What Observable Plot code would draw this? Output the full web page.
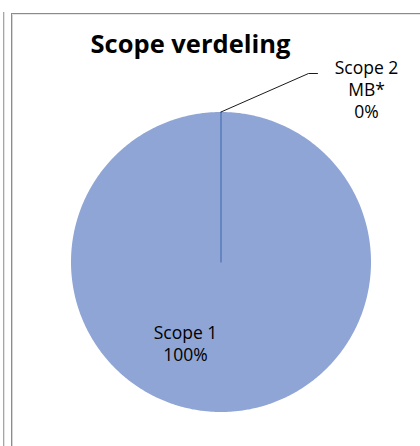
<!DOCTYPE html>
<html>
<head>
<meta charset="utf-8">
<script src="https://cdn.jsdelivr.net/npm/d3@7"></script>
<script src="https://cdn.jsdelivr.net/npm/@observablehq/plot@0.6"></script>
<style>
  html, body { margin: 0; padding: 0; background: #fff; }
  #wrap { position: relative; width: 420px; height: 446px; overflow: hidden; }
  #wrap svg { position: absolute; left: 0; top: 0; }
  .ln { position: absolute; pointer-events: none; }
</style>
</head>
<body>
<div id="wrap">
  <div class="ln" style="left:3px;top:12px;width:1px;height:434px;background:#a6a6a6"></div>
  <div class="ln" style="left:4px;top:12px;width:1px;height:434px;background:#e3e3e3"></div>
  <div class="ln" style="left:11px;top:13px;width:409px;height:1px;background:#8c8c8c"></div>
  <div class="ln" style="left:11px;top:13px;width:1px;height:433px;background:#8c8c8c"></div>
  <div class="ln" style="left:12px;top:14px;width:1px;height:432px;background:#d6d6d6"></div>
  <div class="ln" style="left:12px;top:14px;width:408px;height:1px;background:#e6e6e6"></div>
</div>
<script>
// ---- data ----
const title = "Scope verdeling";
const categories = ["Scope 1", "Scope 2 MB*"];
const values = [100, 0];
const percentLabels = ["100%", "0%"];

// ---- style / layout ----
const W = 420, H = 446;
const R = 150, cx = 220.5, cy = 261.5;
const fillColors = ["#8fa5d5", "#4a6fb7"];
const font = "'Open Sans', 'Noto Sans', sans-serif";
// label layout (pixels relative to pie centre)
const labelLayout = {
  "Scope 1": {tx: -35.5, ty: 80.5, leader: null},
  "Scope 2 MB*": {tx: 145.5, ty: -173.5, leader: {ex: 87.5, ey: -188.5, tail: 9}}
};

const rows = categories.map((c, i) => ({category: c, value: values[i], pct: percentLabels[i], color: fillColors[i]}));
const arcs = d3.pie().sort(null).value(d => d.value)(rows);

// polygon outlines of slices (unit radius, angle clockwise from 12 o'clock)
const polys = [];
arcs.forEach(a => {
  const span = a.endAngle - a.startAngle;
  const n = Math.max(1, Math.ceil(span / (2 * Math.PI) * 720));
  polys.push({k: a.data.category, x: 0, y: 0, color: a.data.color, zero: span === 0});
  for (let i = 0; i <= n; i++) {
    const t = a.startAngle + span * i / n;
    polys.push({k: a.data.category, x: Math.sin(t), y: -Math.cos(t), color: a.data.color, zero: span === 0});
  }
  polys.push({k: a.data.category, x: 0, y: 0, color: a.data.color, zero: span === 0});
});

const filled = polys.filter(d => !d.zero);
const zeroLines = polys.filter(d => d.zero);

// leader lines & labels
const leaders = [];
const labels = [];
arcs.forEach(a => {
  const L = labelLayout[a.data.category];
  const mid = (a.startAngle + a.endAngle) / 2;
  labels.push({
    x: L.tx / R, y: L.ty / R,
    text: a.data.category.replace(" MB*", "\nMB*") + "\n" + a.data.pct
  });
  if (L.leader) {
    leaders.push({k: a.data.category, x: Math.sin(mid), y: -Math.cos(mid)});
    leaders.push({k: a.data.category, x: L.leader.ex / R, y: L.leader.ey / R});
    leaders.push({k: a.data.category, x: (L.leader.ex + L.leader.tail) / R, y: L.leader.ey / R});
  }
});

const chart = Plot.plot({
  width: W, height: H,
  margin: 0,
  style: {background: "transparent", fontFamily: font},
  x: {domain: [-cx / R, (W - cx) / R], range: [0, W], axis: null},
  y: {domain: [-cy / R, (H - cy) / R], range: [0, H], axis: null},
  marks: [
    Plot.line(filled, {x: "x", y: "y", z: "k", fill: "color", stroke: "none", curve: "linear-closed"}),
    Plot.line(zeroLines, {x: "x", y: "y", z: "k", stroke: "color", strokeWidth: 1.2}),
    Plot.line(leaders, {x: "x", y: "y", z: "k", stroke: "#000", strokeWidth: 0.9}),
    Plot.text(labels, {x: "x", y: "y", text: "text", fontSize: 17.5, lineHeight: 1.26, fill: "#000", textAnchor: "middle", lineAnchor: "middle"}),
    Plot.text([title], {frameAnchor: "top-left", dx: 190, dy: 34, text: d => d, fontSize: 25.5, fontWeight: "bold", fill: "#000", textAnchor: "middle", lineAnchor: "top"})
  ]
});
document.getElementById("wrap").prepend(chart);
</script>
</body>
</html>
